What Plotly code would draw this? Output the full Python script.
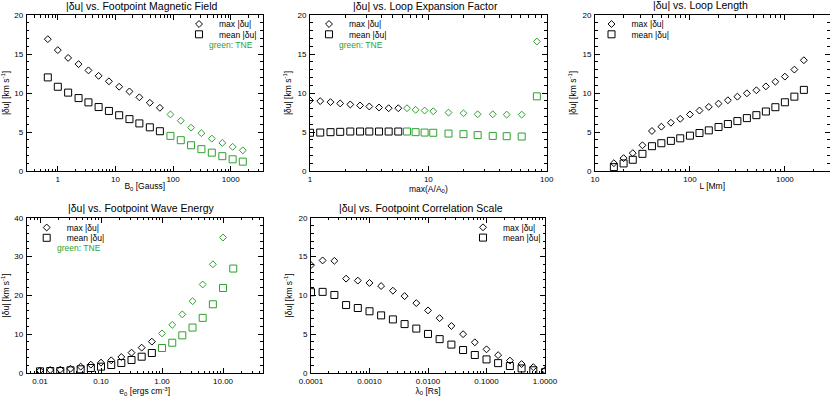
import numpy as np
import plotly.graph_objects as go

# ---------------- data ----------------
b0 = [0.67, 1.0, 1.51, 2.29, 3.4, 5.1, 7.7, 11.6, 17.5, 26, 39.5, 59, 90, 136, 205, 310, 470, 715, 1080, 1620]
b0_max = [16.9, 15.5, 14.5, 13.7, 12.9, 12.2, 11.5, 10.8, 10.2, 9.45, 8.75, 8.1, 7.25, 6.45, 5.55, 4.85, 4.15, 3.6, 3.1, 2.65]
b0_mean = [12.0, 10.8, 10.05, 9.35, 8.8, 8.2, 7.7, 7.15, 6.65, 6.1, 5.6, 5.1, 4.5, 3.95, 3.3, 2.8, 2.35, 1.9, 1.5, 1.2]
b0_tne_from = 12

expf = [1.0, 1.22, 1.49, 1.80, 2.19, 2.65, 3.17, 3.83, 4.62, 5.57, 6.6, 7.8, 9.3, 11.0, 14.8, 19.8, 26.1, 35.0, 45.9, 61.5, 82.6]
expf_max = [9.05, 8.96, 8.83, 8.66, 8.53, 8.4, 8.27, 8.14, 8.05, 8.05, 8.05, 7.84, 7.75, 7.66, 7.49, 7.4, 7.27, 7.27, 7.23, 7.23, 16.6]
expf_mean = [4.9, 4.93, 4.98, 5.02, 5.06, 5.06, 5.06, 5.06, 5.06, 5.06, 5.06, 4.98, 4.93, 4.9, 4.8, 4.72, 4.6, 4.5, 4.46, 4.42, 9.57]
expf_tne_from = 10

loop_len = [15.8, 20, 25, 31.6, 39.8, 50, 63, 79, 100, 126, 158, 200, 251, 316, 398, 501, 631, 794, 1000, 1259, 1585]
len_max = [1.0, 1.65, 2.29, 3.3, 5.13, 5.68, 6.19, 6.69, 7.25, 7.75, 8.22, 8.64, 9.07, 9.53, 9.96, 10.35, 10.85, 11.45, 12.1, 13.0, 14.2]
len_mean = [0.5, 0.97, 1.44, 2.2, 3.18, 3.56, 3.86, 4.19, 4.53, 4.87, 5.21, 5.64, 6.02, 6.4, 6.78, 7.16, 7.63, 8.18, 8.81, 9.53, 10.4]

e0 = [0.01, 0.0147, 0.0215, 0.0316, 0.0464, 0.0681, 0.1, 0.147, 0.215, 0.316, 0.464, 0.681, 1.0, 1.47, 2.15, 3.16, 4.64, 6.81, 10.0, 14.7]
e0_max = [0.6, 0.77, 0.86, 1.1, 1.63, 2.15, 2.66, 3.26, 4.12, 5.24, 6.53, 8.08, 10.2, 12.4, 15.1, 18.5, 22.8, 28.0, 34.9, None]
e0_mean = [0.43, 0.52, 0.52, 0.69, 0.95, 1.29, 1.63, 2.06, 2.58, 3.35, 4.2, 5.15, 6.44, 7.8, 9.7, 11.7, 14.2, 17.7, 21.9, 26.9]
e0_tne_from = 12

lam0 = [0.0001, 0.000158, 0.000251, 0.000398, 0.000631, 0.001, 0.00158, 0.00251, 0.00398, 0.00631, 0.01,
        0.0158, 0.0251, 0.0398, 0.0631, 0.1, 0.158, 0.251, 0.398, 0.631, 1.0]
lam_max = [13.9, 14.5, 14.45, 12.15, 11.9, 11.6, 11.2, 10.6, 9.9, 9.0, 8.06, 7.06, 6.06, 5.0, 3.95, 3.05, 2.3, 1.6, 1.15, 0.75, 0.35]
lam_mean = [10.4, 10.45, 10.05, 8.75, 8.37, 7.95, 7.42, 6.9, 6.3, 5.72, 5.03, 4.36, 3.66, 2.96, 2.32, 1.75, 1.27, 0.9, 0.59, 0.35, 0.11]

titles = ["|δu| vs. Footpoint Magnetic Field", "|δu| vs. Loop Expansion Factor", "|δu| vs. Loop Length",
          "|δu| vs. Footpoint Wave Energy", "|δu| vs. Footpoint Correlation Scale"]
x_titles = ["B<sub>0</sub> [Gauss]", "max(A/A<sub>0</sub>)", "L [Mm]",
            "e<sub>0</sub> [ergs cm<sup>-3</sup>]", "λ<sub>0</sub> [Rs]"]
y_title = "|δu| [km s<sup>-1</sup>]"
legend_names = ["max |δu|", "mean |δu|"]
tne_label = "green: TNE"

# ---------------- styling / layout ----------------
W, H = 830, 397
GREEN = "#2ea12e"
FONT = "Arial, Liberation Sans, Helvetica, sans-serif"

def px_x(p):
    return p / W

def px_y(p):
    return 1 - p / H

panels = [
    dict(x=b0, ymax=b0_max, ymean=b0_mean, tne=b0_tne_from, box=(26.7, 262.7, 15, 171),
         xr=(-0.54, 3.555), yr=(0, 20), ydt=5, ymin=1, fmt=".0f", title_c=(141.7, 6), leg=(200, 24), tne_txt=True),
    dict(x=expf, ymax=expf_max, ymean=expf_mean, tne=expf_tne_from, box=(310, 546.7, 15, 171),
         xr=(0, 2), yr=(0, 20), ydt=5, ymin=1, fmt=".0f", title_c=(425, 6), leg=(330, 24), tne_txt=True),
    dict(x=loop_len, ymax=len_max, ymean=len_mean, tne=None, box=(595, 829.5, 15, 171),
         xr=(1, 3.47), yr=(0, 20), ydt=5, ymin=1, fmt=".0f", title_c=(700, 5.5), leg=(612.5, 24), tne_txt=False),
    dict(x=e0, ymax=e0_max, ymean=e0_mean, tne=e0_tne_from, box=(26.7, 262.7, 217.7, 373),
         xr=(-2.218, 1.65), yr=(0, 40), ydt=10, ymin=2, fmt=".2f", title_c=(140.5, 207.5), leg=(47.7, 227.5), tne_txt=True),
    dict(x=lam0, ymax=lam_max, ymean=lam_mean, tne=None, box=(311, 545, 217.7, 373),
         xr=(-4, 0), yr=(0, 20), ydt=5, ymin=1, fmt=".4f", title_c=(420.8, 208), leg=(484, 227.3), tne_txt=False),
]

fig = go.Figure()
layout = dict(width=W, height=H, margin=dict(l=0, r=0, t=0, b=0, pad=0, autoexpand=False),
              paper_bgcolor="white", plot_bgcolor="white",
              font=dict(family=FONT, color="black", size=9), annotations=[])

sym = {"max": dict(symbol="diamond-open", size=5.3), "mean": dict(symbol="square-open", size=7)}
leg_count = 0
for i, p in enumerate(panels):
    k = "" if i == 0 else str(i + 1)
    xa, ya = "x" + k, "y" + k
    n = len(p["x"])
    cut = p["tne"] if p["tne"] is not None else n
    for j, (key, ys) in enumerate([("max", p["ymax"]), ("mean", p["ymean"])]):
        leg_count += 1
        lname = "legend" if leg_count == 1 else "legend%d" % leg_count
        fig.add_trace(go.Scatter(x=p["x"][:cut], y=ys[:cut], mode="markers", xaxis=xa, yaxis=ya,
                                 name=legend_names[j], legend=lname, showlegend=True,
                                 marker=dict(color="black", line=dict(color="black", width=1), **sym[key])))
        if cut < n:
            fig.add_trace(go.Scatter(x=p["x"][cut:], y=ys[cut:], mode="markers", xaxis=xa, yaxis=ya,
                                     showlegend=False,
                                     marker=dict(color=GREEN, line=dict(color=GREEN, width=1), **sym[key])))
        lx, ly = p["leg"]
        layout[lname] = dict(x=px_x(lx - 21), y=px_y(ly + 10.3 * j), xanchor="left", yanchor="middle",
                             bgcolor="rgba(0,0,0,0)", font=dict(size=8.5, family=FONT),
                             itemclick=False, itemdoubleclick=False)
    if p["tne_txt"]:
        lx, ly = p["leg"]
        layout["annotations"].append(dict(text=tne_label, xref="paper", yref="paper", x=px_x(lx + 7),
                                          y=px_y(ly + 21), xanchor="left", yanchor="middle", showarrow=False,
                                          font=dict(size=8.5, color=GREEN, family=FONT)))
    x0, x1, y0, y1 = p["box"]
    lo, hi = int(np.floor(p["xr"][0])), int(np.ceil(p["xr"][1]))
    minor_vals = [m * 10.0 ** e for e in range(lo, hi + 1) for m in range(2, 10)]
    axis_common = dict(showline=True, linecolor="black", linewidth=1, mirror="allticks", ticks="inside",
                       ticklen=5, tickwidth=1, tickcolor="black", showgrid=False, zeroline=False,
                       automargin=False, tickfont=dict(size=8, family=FONT))
    layout["xaxis" + k] = dict(axis_common, type="log", domain=[px_x(x0), px_x(x1)], range=list(p["xr"]),
                               anchor=ya, dtick=1, tickformat=p["fmt"], ticklabelstandoff=0,
                               minor=dict(tickmode="array", tickvals=minor_vals, ticks="inside", ticklen=2.5,
                                          tickcolor="black", showgrid=False),
                               title=dict(text=x_titles[i], font=dict(size=8.5, family=FONT), standoff=0))
    layout["yaxis" + k] = dict(axis_common, domain=[px_y(y1), px_y(y0)], range=list(p["yr"]), anchor=xa,
                               dtick=p["ydt"], ticklabelstandoff=1,
                               minor=dict(dtick=p["ymin"], ticks="inside", ticklen=2.5, tickcolor="black",
                                          showgrid=False),
                               title=dict(text=y_title, font=dict(size=8.5, family=FONT), standoff=4))
    cx, cy = p["title_c"]
    layout["annotations"].append(dict(text=titles[i], xref="paper", yref="paper", x=px_x(cx), y=px_y(cy),
                                      xanchor="center", yanchor="middle", showarrow=False,
                                      font=dict(size=10.5, family=FONT)))

fig.update_layout(**layout)
fig.write_html("out.html", config={"displayModeBar": False},
               post_script="document.body.style.margin='0px';")
